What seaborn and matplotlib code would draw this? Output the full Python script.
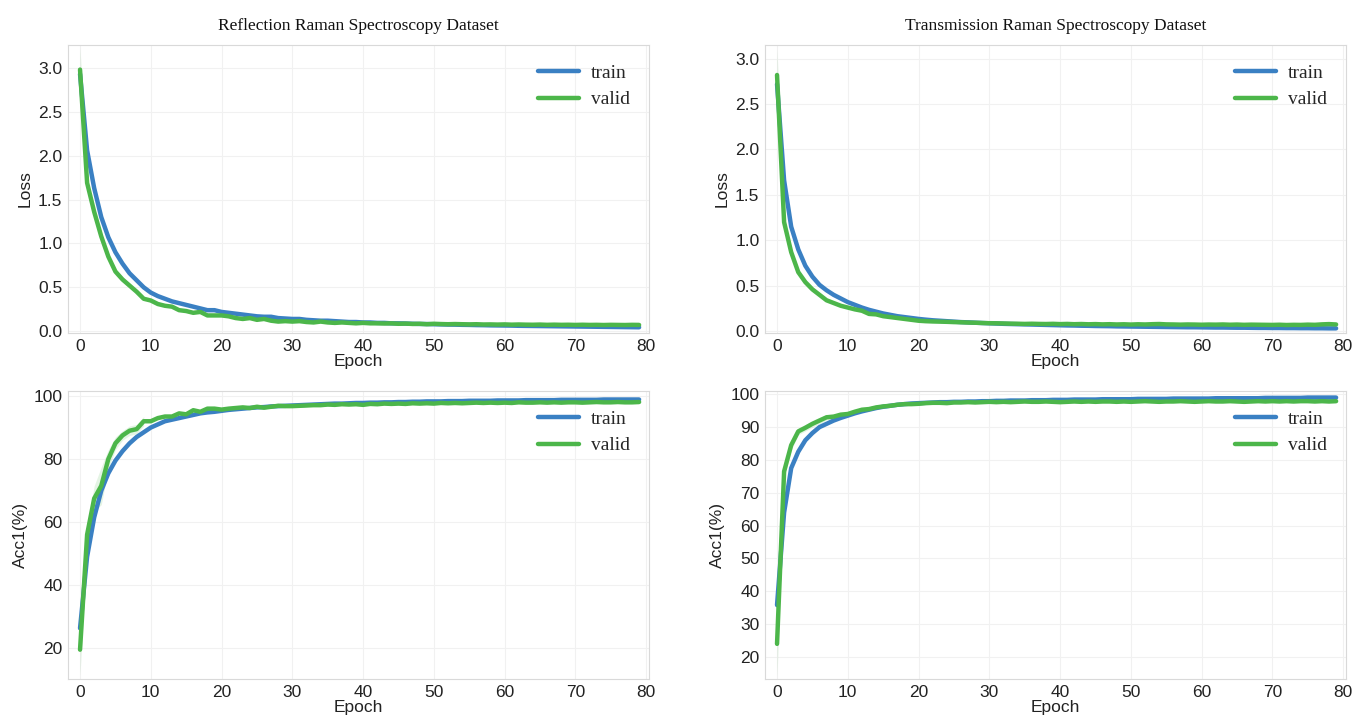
import numpy as np
import pandas as pd
import matplotlib
matplotlib.use("Agg")
import matplotlib.pyplot as plt
import seaborn as sns

# ---------------- data ----------------
epochs = list(range(80))

refl_loss_train = [2.93, 2.06, 1.63, 1.30, 1.07, 0.90, 0.77, 0.66, 0.58, 0.50,
                   0.44, 0.40, 0.37, 0.34, 0.32, 0.30, 0.28, 0.26, 0.24, 0.24,
                   0.22, 0.21, 0.20, 0.19, 0.18, 0.17, 0.165, 0.165, 0.15, 0.145,
                   0.14, 0.14, 0.13, 0.125, 0.12, 0.12, 0.115, 0.11, 0.105, 0.105,
                   0.10, 0.10, 0.095, 0.095, 0.09, 0.09, 0.088, 0.085, 0.083, 0.082,
                   0.08, 0.078, 0.076, 0.075, 0.073, 0.072, 0.07, 0.069, 0.067, 0.066,
                   0.065, 0.064, 0.062, 0.061, 0.06, 0.059, 0.058, 0.057, 0.056, 0.055,
                   0.054, 0.053, 0.052, 0.051, 0.05, 0.049, 0.048, 0.047, 0.046, 0.045]
refl_loss_valid = [2.98, 1.69, 1.36, 1.08, 0.85, 0.68, 0.59, 0.52, 0.45, 0.37,
                   0.35, 0.31, 0.29, 0.28, 0.24, 0.23, 0.21, 0.22, 0.18, 0.18,
                   0.18, 0.17, 0.15, 0.14, 0.15, 0.13, 0.14, 0.12, 0.11, 0.115,
                   0.11, 0.115, 0.105, 0.10, 0.11, 0.10, 0.095, 0.10, 0.095, 0.09,
                   0.095, 0.09, 0.09, 0.088, 0.09, 0.085, 0.087, 0.083, 0.085, 0.08,
                   0.085, 0.082, 0.08, 0.082, 0.08, 0.078, 0.08, 0.077, 0.078, 0.076,
                   0.078, 0.075, 0.077, 0.075, 0.074, 0.076, 0.073, 0.075, 0.073, 0.074,
                   0.072, 0.074, 0.072, 0.073, 0.071, 0.073, 0.072, 0.071, 0.073, 0.072]

trans_loss_train = [2.72, 1.66, 1.15, 0.90, 0.72, 0.60, 0.51, 0.45, 0.40, 0.36,
                    0.32, 0.29, 0.26, 0.235, 0.215, 0.195, 0.18, 0.165, 0.155, 0.145,
                    0.135, 0.127, 0.12, 0.115, 0.11, 0.105, 0.10, 0.097, 0.093, 0.09,
                    0.087, 0.084, 0.081, 0.079, 0.077, 0.075, 0.073, 0.071, 0.069, 0.067,
                    0.065, 0.063, 0.062, 0.06, 0.059, 0.057, 0.056, 0.055, 0.053, 0.052,
                    0.051, 0.05, 0.049, 0.048, 0.047, 0.046, 0.045, 0.044, 0.043, 0.043,
                    0.042, 0.041, 0.04, 0.04, 0.039, 0.038, 0.038, 0.037, 0.036, 0.036,
                    0.035, 0.035, 0.034, 0.034, 0.033, 0.033, 0.032, 0.032, 0.031, 0.031]
trans_loss_valid = [2.82, 1.20, 0.87, 0.65, 0.54, 0.46, 0.40, 0.34, 0.31, 0.28,
                    0.26, 0.24, 0.225, 0.19, 0.185, 0.165, 0.155, 0.145, 0.135, 0.125,
                    0.115, 0.11, 0.107, 0.105, 0.103, 0.10, 0.098, 0.095, 0.093, 0.09,
                    0.088, 0.087, 0.085, 0.083, 0.082, 0.08, 0.082, 0.08, 0.079, 0.081,
                    0.078, 0.08, 0.077, 0.079, 0.076, 0.078, 0.075, 0.077, 0.074, 0.076,
                    0.073, 0.076, 0.074, 0.077, 0.079, 0.075, 0.074, 0.072, 0.074, 0.073,
                    0.071, 0.073, 0.072, 0.074, 0.071, 0.073, 0.07, 0.072, 0.071, 0.07,
                    0.069, 0.071, 0.068, 0.07, 0.069, 0.072, 0.07, 0.075, 0.078, 0.074]

refl_acc_train = [26.3, 49.0, 61.5, 70.0, 75.5, 79.5, 82.5, 85.0, 87.0, 88.5,
                  90.0, 91.0, 92.0, 92.5, 93.0, 93.5, 94.0, 94.5, 94.8, 95.0,
                  95.3, 95.6, 95.8, 96.0, 96.2, 96.4, 96.5, 96.7, 96.8, 96.9,
                  97.0, 97.1, 97.2, 97.3, 97.4, 97.5, 97.6, 97.6, 97.7, 97.8,
                  97.8, 97.9, 97.9, 98.0, 98.0, 98.1, 98.1, 98.2, 98.2, 98.3,
                  98.3, 98.3, 98.4, 98.4, 98.4, 98.5, 98.5, 98.5, 98.5, 98.6,
                  98.6, 98.6, 98.6, 98.7, 98.7, 98.7, 98.7, 98.7, 98.8, 98.8,
                  98.8, 98.8, 98.8, 98.8, 98.9, 98.9, 98.9, 98.9, 98.9, 98.9]
refl_acc_valid = [19.5, 56.0, 67.5, 71.5, 80.0, 85.0, 87.5, 89.0, 89.5, 92.0,
                  92.0, 93.0, 93.5, 93.5, 94.5, 94.2, 95.5, 95.0, 96.0, 96.0,
                  95.7, 96.0, 96.2, 96.4, 96.2, 96.6, 96.3, 96.6, 96.9, 96.8,
                  96.8, 96.9, 97.0, 97.1, 97.1, 97.3, 97.2, 97.4, 97.3, 97.4,
                  97.2, 97.5, 97.4, 97.6, 97.5, 97.6, 97.5, 97.7, 97.6, 97.7,
                  97.6, 97.8, 97.7, 97.8, 97.7, 97.8, 97.9, 97.8, 97.9, 97.8,
                  97.9, 97.8, 98.0, 97.9, 97.9, 98.0, 97.9, 98.0, 97.9, 98.0,
                  98.0, 97.9, 98.0, 98.1, 98.0, 98.0, 98.1, 98.0, 98.0, 98.1]

trans_acc_train = [35.8, 64.0, 77.5, 82.5, 86.0, 88.2, 90.0, 91.0, 92.0, 92.8,
                   93.5, 94.2, 94.8, 95.3, 95.8, 96.2, 96.5, 96.8, 97.0, 97.2,
                   97.3, 97.4, 97.5, 97.6, 97.6, 97.7, 97.7, 97.8, 97.8, 97.9,
                   97.9, 98.0, 98.0, 98.1, 98.1, 98.1, 98.2, 98.2, 98.2, 98.3,
                   98.3, 98.3, 98.4, 98.4, 98.4, 98.4, 98.5, 98.5, 98.5, 98.5,
                   98.5, 98.6, 98.6, 98.6, 98.6, 98.6, 98.7, 98.7, 98.7, 98.7,
                   98.7, 98.7, 98.8, 98.8, 98.8, 98.8, 98.8, 98.8, 98.8, 98.9,
                   98.9, 98.9, 98.9, 98.9, 98.9, 99.0, 99.0, 99.0, 99.0, 99.0]
trans_acc_valid = [24.0, 76.5, 84.5, 88.7, 89.8, 91.0, 92.0, 93.0, 93.2, 93.8,
                   94.0, 94.7, 95.3, 95.5, 96.0, 96.3, 96.5, 96.8, 97.0, 97.0,
                   97.1, 97.3, 97.4, 97.4, 97.3, 97.5, 97.5, 97.6, 97.5, 97.6,
                   97.7, 97.6, 97.7, 97.6, 97.7, 97.8, 97.7, 97.7, 97.8, 97.7,
                   97.6, 97.7, 97.8, 97.7, 97.8, 97.7, 97.8, 97.8, 97.7, 97.8,
                   97.7, 97.8, 97.9, 97.8, 97.7, 97.8, 97.8, 97.9, 97.8, 97.7,
                   97.8, 97.9, 97.8, 97.8, 97.9, 97.8, 97.7, 97.8, 97.9, 97.8,
                   97.9, 97.8, 97.9, 97.8, 97.9, 97.9, 97.8, 97.9, 97.8, 97.9]

# half-widths of the faint spread bands around the valid curves (first epochs)
refl_loss_band = [0.25, 0.05, 0.04, 0.04, 0.03, 0.03, 0.03, 0.02, 0.02, 0.02]
trans_loss_band = [0.28, 0.04, 0.03, 0.02, 0.02, 0.02, 0.02, 0.02, 0.01, 0.01]
refl_acc_band = [8.0, 3.0, 4.0, 6.0, 3.0, 2.0, 1.5, 1.5, 1.5, 1.5]
trans_acc_band = [10.0, 2.0, 1.5, 1.0, 1.0, 1.0, 1.0, 0.8, 0.8, 0.6]

titles = ["Reflection Raman Spectroscopy Dataset", "Transmission Raman Spectroscopy Dataset"]
series_names = ["train", "valid"]

# ---------------- style ----------------
sns.set_style("whitegrid", {"grid.color": "#f1f1f1", "axes.edgecolor": "#d9d9d9",
                            "axes.linewidth": 1.2})
plt.rcParams["font.family"] = ["Liberation Sans", "DejaVu Sans"]

BLUE = "#3a80c3"
GREEN = "#4cb64a"

fig = plt.figure(figsize=(13.54, 7.21), dpi=100)
W, H = 1354.0, 721.0
def box(l, t, r, b):
    return [l / W, 1 - b / H, (r - l) / W, (b - t) / H]

ax_rl = fig.add_axes(box(68, 45, 649, 333))
ax_tl = fig.add_axes(box(765, 45, 1346, 333))
ax_ra = fig.add_axes(box(68, 391, 649, 679))
ax_ta = fig.add_axes(box(765, 391, 1346, 679))

panels = [
    (ax_rl, refl_loss_train, refl_loss_valid, refl_loss_band, "Loss", (-0.02, 3.26), np.arange(0, 3.01, 0.5), "{:.1f}"),
    (ax_tl, trans_loss_train, trans_loss_valid, trans_loss_band, "Loss", (-0.02, 3.15), np.arange(0, 3.01, 0.5), "{:.1f}"),
    (ax_ra, refl_acc_train, refl_acc_valid, refl_acc_band, "Acc1(%)", (10.2, 101.6), np.arange(20, 101, 20), "{:.0f}"),
    (ax_ta, trans_acc_train, trans_acc_valid, trans_acc_band, "Acc1(%)", (13.3, 101.0), np.arange(20, 101, 10), "{:.0f}"),
]

for ax, tr, va, band, ylab, ylim, yt, fmt in panels:
    n = len(band)
    v = np.array(va[:n]); b = np.array(band)
    ax.fill_between(epochs[:n], v - b, v + b, color=GREEN, alpha=0.15, lw=0)
    ax.fill_between(epochs[:n], np.array(tr[:n]) - b * 0.3, np.array(tr[:n]) + b * 0.3,
                    color=BLUE, alpha=0.12, lw=0)
    df = pd.DataFrame({"Epoch": epochs * 2, "val": tr + va,
                       "series": [series_names[0]] * len(tr) + [series_names[1]] * len(va)})
    sns.lineplot(data=df, x="Epoch", y="val", hue="series", palette=[BLUE, GREEN],
                 linewidth=3.2, ax=ax, legend=True)
    ax.set_xlim(-1.7, 80.4)
    ax.set_ylim(*ylim)
    ax.set_yticks(yt)
    ax.set_yticklabels([fmt.format(t) for t in yt])
    ax.set_xticks(range(0, 81, 10))
    ax.tick_params(axis="both", labelsize=12.5, colors="#222222", length=0, pad=4)
    ax.set_xlabel("Epoch", fontsize=12.5, color="#222222", labelpad=0)
    ax.set_ylabel(ylab, fontsize=12.5, color="#222222", labelpad=4)
    handles, labels = ax.get_legend_handles_labels()
    ax.legend(handles, labels, loc="upper right", frameon=False,
              prop={"family": "Liberation Serif", "size": 14},
              handlelength=2.1, handletextpad=0.6, borderaxespad=0.6, labelspacing=0.45)
    for line in ax.get_legend().get_lines():
        line.set_linewidth(3.2)
    for s in ax.spines.values():
        s.set_color("#d9d9d9")

for ax, t in zip([ax_rl, ax_tl], titles):
    ax.set_title(t, fontfamily="Liberation Serif", fontsize=12.5, color="#111111", pad=11)

fig.savefig("out.png", dpi=100)
